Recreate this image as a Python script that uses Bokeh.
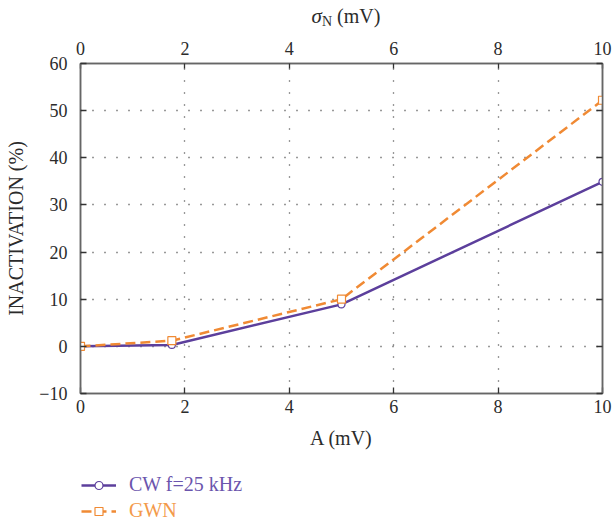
from bokeh.plotting import figure
from bokeh.layouts import column
from bokeh.models import LinearAxis, Range1d, Legend, LegendItem, FixedTicker, Div
from bokeh.embed import file_html
from bokeh.resources import INLINE

# ---- data ----
amplitude = [0, 1.75, 5, 10]
cw_inact = [0, 0.3, 8.9, 34.9]
gwn_inact = [0, 1.2, 10.0, 52.2]
x_ticks = [0, 2, 4, 6, 8, 10]
y_ticks = [-10, 0, 10, 20, 30, 40, 50, 60]
x_grid = [2, 4, 6, 8]
y_grid = [0, 10, 20, 30, 40, 50]
cw_label = "CW f=25 kHz"
gwn_label = "GWN"

PURPLE = "#5C3F9C"
ORANGE = "#F08A34"
PURPLE_TXT = "#6B55AD"
ORANGE_TXT = "#F39A4B"
FONT = "Liberation Serif"
TXT = "#2b2b2b"

top_label = Div(
    text=('<span style="font-style:italic;font-size:21px">σ</span>'
          '<sub style="font-size:14px">N</sub>'
          '<span style="font-size:20px">&nbsp;(mV)</span>'),
    width=614, height=34, margin=0,
    styles={"font-family": FONT, "color": TXT, "text-align": "center",
            "padding-left": "78px", "padding-right": "0px", "box-sizing": "border-box",
            "line-height": "22px", "padding-top": "5px"})

p = figure(width=614, height=432, output_backend="svg", toolbar_location=None,
           x_range=Range1d(0, 10), y_range=Range1d(-10, 60),
           min_border_left=80, min_border_right=12, min_border_top=29,
           min_border_bottom=73, margin=0,
           x_axis_label="A (mV)", y_axis_label="INACTIVATION (%)")
p.outline_line_color = "#666666"
p.outline_line_width = 1.5
p.background_fill_color = "white"
p.border_fill_color = "white"

bottom_axis = p.below[0]
left_axis = p.left[0]
top_axis = LinearAxis()
right_axis = LinearAxis()
p.add_layout(top_axis, "above")
p.add_layout(right_axis, "right")

for ax in [bottom_axis, left_axis, top_axis, right_axis]:
    ax.axis_line_color = "#666666"
    ax.axis_line_width = 1.5
    ax.major_tick_in = 6
    ax.major_tick_out = 0
    ax.minor_tick_line_color = None
    ax.major_tick_line_color = "#333333"
    ax.major_tick_line_width = 1.3
    ax.major_label_text_font = FONT
    ax.major_label_text_font_size = "18px"
    ax.major_label_text_color = TXT
    ax.axis_label_text_font = FONT
    ax.axis_label_text_font_size = "20px"
    ax.axis_label_text_font_style = "normal"
    ax.axis_label_text_color = TXT

for ax in [bottom_axis, top_axis]:
    ax.ticker = FixedTicker(ticks=x_ticks)
for ax in [left_axis, right_axis]:
    ax.ticker = FixedTicker(ticks=y_ticks)

bottom_axis.major_label_standoff = 6
bottom_axis.axis_label_standoff = 11
left_axis.major_label_standoff = 13
left_axis.axis_label_standoff = 9
top_axis.major_label_standoff = 9
top_axis.major_tick_in = 5
right_axis.major_label_overrides = {t: "" for t in y_ticks}

p.xgrid.ticker = FixedTicker(ticks=x_grid)
p.ygrid.ticker = FixedTicker(ticks=y_grid)
for g in [p.xgrid[0], p.ygrid[0]]:
    g.grid_line_color = "#333333"
    g.grid_line_width = 1.3
    g.grid_line_dash = "1 11"

r1 = p.line(amplitude, cw_inact, line_color=PURPLE, line_width=2.5)
s1 = p.scatter(amplitude, cw_inact, marker="circle", size=7, line_color=PURPLE,
               line_width=1.2, fill_color="white")
r2 = p.line(amplitude, gwn_inact, line_color=ORANGE, line_width=2.5, line_dash="10 5")
s2 = p.scatter(amplitude, gwn_inact, marker="square", size=8, line_color=ORANGE,
               line_width=1.2, fill_color="white")

# ---- legend strip (separate figure; its renderers lie outside its ranges) ----
lg = figure(width=614, height=56, output_backend="svg", toolbar_location=None,
            x_range=Range1d(100, 101), y_range=Range1d(100, 101),
            min_border=0, margin=0, x_axis_location=None, y_axis_location=None)
lg.outline_line_color = None
lg.xgrid.visible = False
lg.ygrid.visible = False
lr1 = lg.line(amplitude, cw_inact, line_color=PURPLE, line_width=2.5)
ls1 = lg.scatter(amplitude, cw_inact, marker="circle", size=6, line_color=PURPLE,
                 line_width=1.2, fill_color="white")
lr2 = lg.line(amplitude, gwn_inact, line_color=ORANGE, line_width=2.5, line_dash="10 5")
ls2 = lg.scatter(amplitude, gwn_inact, marker="square", size=7, line_color=ORANGE,
                 line_width=1.2, fill_color="white")

leg1 = Legend(items=[LegendItem(label=cw_label, renderers=[lr1, ls1])], location=(1, 26))
leg2 = Legend(items=[LegendItem(label=gwn_label, renderers=[lr2, ls2])], location=(1, 0))
for leg, col in [(leg1, PURPLE_TXT), (leg2, ORANGE_TXT)]:
    leg.label_text_color = col
    leg.label_text_font = FONT
    leg.label_text_font_size = "20px"
    leg.glyph_width = 35
    leg.glyph_height = 20
    leg.label_height = 20
    leg.label_standoff = 13
    leg.padding = 0
    leg.margin = 0
    leg.spacing = 0
    leg.border_line_color = None
    leg.background_fill_alpha = 0
    lg.add_layout(leg, "center")

layout = column(top_label, p, lg, spacing=0, margin=0)
open("out.html", "w").write(file_html(layout, INLINE))
